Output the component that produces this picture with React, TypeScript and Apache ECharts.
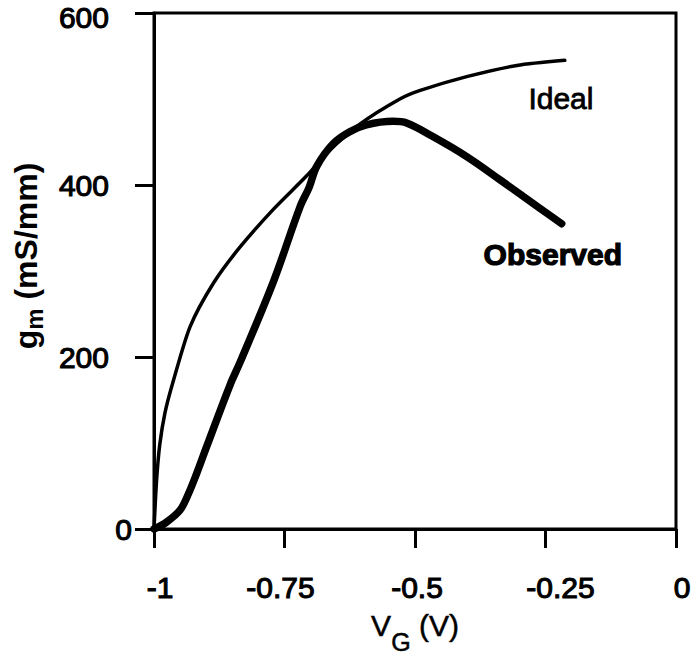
import React, { useEffect, useRef } from 'react';
import * as echarts from 'echarts';

const idealV = [-1, -0.995, -0.989, -0.979, -0.964, -0.931, -0.886, -0.835, -0.771, -0.707, -0.669, -0.605, -0.529, -0.49, -0.401, -0.305, -0.213];
const idealGm = [0, 57, 98, 135, 170, 235, 286, 328, 372, 411, 437, 471, 500, 510, 526, 539, 545];
const observedV = [-1, -0.976, -0.95, -0.934, -0.918, -0.899, -0.854, -0.835, -0.771, -0.72, -0.703, -0.688, -0.657, -0.625, -0.593, -0.542, -0.516, -0.465, -0.401, -0.337, -0.261, -0.219];
const observedGm = [0, 8, 22, 41, 65, 96, 168, 194, 288, 375, 397, 422, 448, 462, 470, 474, 472, 456, 433, 406, 373, 355];
const xTickValues = [-1, -0.75, -0.5, -0.25, 0];
const xTickLabels = ['-1', '-0.75', '-0.5', '-0.25', '0'];
const yTickValues = [0, 200, 400, 600];
const curveNames = ['Ideal', 'Observed'];

const FONT = '"Liberation Sans", Arial, Helvetica, sans-serif';
const xNudgeKeys = ['a', 'b', 'c', 'd', 'e'];

export default function App() {
  const ref = useRef<HTMLDivElement>(null);
  useEffect(() => {
    if (!ref.current) return;
    const chart = echarts.init(ref.current, undefined, { renderer: 'svg' });
    const base = {
      fontFamily: FONT,
      fontSize: 30,
      color: '#000',
      textBorderColor: '#000',
      textBorderWidth: 1.1,
      lineHeight: 34,
    };
    const yScale = {
      type: 'value', min: 0, max: 600, interval: 200,
      splitLine: { show: false },
    };
    const option: any = {
      animation: false,
      backgroundColor: '#fff',
      grid: {
        left: 154, right: 17, top: 13, bottom: 127,
        outerBoundsMode: 'none',
        show: true, borderColor: '#000', borderWidth: 3,
      },
      xAxis: {
        type: 'value', min: -1, max: 0, interval: 0.25,
        axisLine: { show: true, onZero: false, lineStyle: { color: '#000', width: 3 } },
        axisTick: { show: true, inside: false, length: 19, lineStyle: { color: '#000', width: 3 } },
        splitLine: { show: false },
        axisLabel: {
          margin: 41,
          formatter: (v: number) => {
            const i = xTickValues.findIndex((t) => Math.abs(t - v) < 1e-9);
            return i < 0 ? '' : `{${xNudgeKeys[i]}|${xTickLabels[i]}}`;
          },
          rich: {
            a: { ...base, padding: [0, 0, 0, 12] },
            b: { ...base, padding: [0, 8, 0, 0] },
            c: { ...base, padding: [0, 0, 0, 4] },
            d: { ...base, padding: [0, 0, 0, 30] },
            e: { ...base, padding: [0, 0, 0, 12] },
          },
        },
        name: '{v|V}{s|G}{v| (V)}',
        nameLocation: 'middle',
        nameGap: 68,
        nameTextStyle: {
          rich: {
            v: { fontFamily: FONT, fontSize: 30, color: '#000', lineHeight: 34, textBorderColor: '#000', textBorderWidth: 0.5 },
            s: { fontFamily: FONT, fontSize: 25, color: '#000', padding: [32, 0, 0, 0], textBorderColor: '#000', textBorderWidth: 0.5 },
          },
        },
      },
      yAxis: [
        {
          ...yScale,
          axisLine: { show: true, onZero: false, lineStyle: { color: '#000', width: 3 } },
          axisTick: { show: true, inside: false, length: 19, lineStyle: { color: '#000', width: 3 } },
          axisLabel: {
            margin: 45,
            formatter: (v: number) => {
              if (v === yTickValues[0]) return '';
              if (v === yTickValues[yTickValues.length - 1]) return `{t|${v}}`;
              return `{n|${v}}`;
            },
            rich: {
              n: { ...base },
              t: { ...base, padding: [8, 0, 0, 0] },
            },
          },
          name: '{g|g}{s|m}{g| (mS/mm)}',
          nameLocation: 'middle',
          nameRotate: 90,
          nameGap: 108,
          nameMoveOverlap: false,
          nameTextStyle: {
            padding: [0, 0, 0, 30],
            rich: {
              g: { fontFamily: FONT, fontSize: 32, fontWeight: 'bold', color: '#000', lineHeight: 38 },
              s: { fontFamily: FONT, fontSize: 24, fontWeight: 'bold', color: '#000', padding: [17, 0, 0, 0] },
            },
          },
        },
        {
          ...yScale,
          position: 'left',
          axisLine: { show: false, onZero: false },
          axisTick: { show: false },
          axisLabel: {
            ...base,
            margin: 22,
            formatter: (v: number) => (v === yTickValues[0] ? String(v) : ''),
          },
        },
      ],
      series: [
        {
          name: curveNames[0],
          type: 'line',
          data: idealV.map((x, i) => [x, idealGm[i]]),
          symbol: 'none',
          smooth: 0.25,
          lineStyle: { color: '#000', width: 3.5, cap: 'round' },
          z: 3,
        },
        {
          name: curveNames[1],
          type: 'line',
          data: observedV.map((x, i) => [x, observedGm[i]]),
          symbol: 'none',
          smooth: 0.35,
          lineStyle: { color: '#000', width: 7.5, cap: 'round', join: 'round' },
          z: 4,
        },
      ],
      graphic: [
        {
          type: 'text', left: 528, top: 83,
          style: { text: curveNames[0], font: `30px ${FONT}`, fill: '#000', stroke: '#000', lineWidth: 0.8 },
        },
        {
          type: 'text', left: 483, top: 239,
          style: { text: curveNames[1], font: `bold 30px ${FONT}`, fill: '#000', stroke: '#000', lineWidth: 1.2 },
        },
      ],
    };
    chart.setOption(option);
    return () => chart.dispose();
  }, []);
  return (
    <div
      ref={ref}
      style={{ position: 'fixed', left: 0, top: 0, width: 693, height: 656, background: '#fff' }}
    />
  );
}
